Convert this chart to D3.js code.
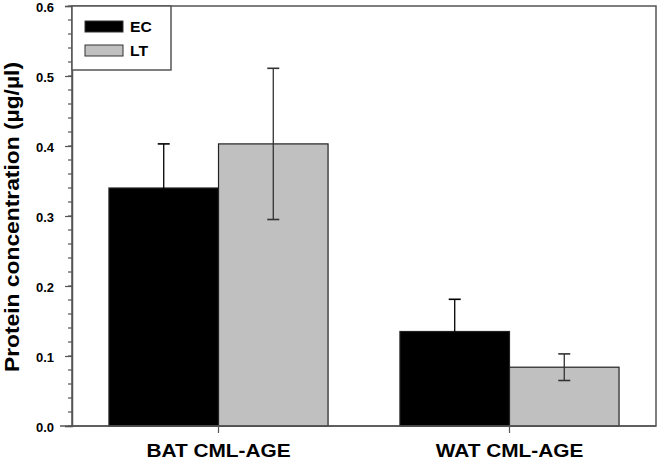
<!DOCTYPE html>
<html><head><meta charset="utf-8">
<script src="https://cdn.jsdelivr.net/npm/d3@7"></script>
<style>body{margin:0;background:#fff}svg{display:block;font-family:Arial,"Liberation Sans",sans-serif}</style>
</head><body><svg id="c" width="657" height="460"></svg>
<script>
const categories = ["BAT CML-AGE", "WAT CML-AGE"];
const seriesNames = ["EC", "LT"];
const seriesColors = ["#000000", "#c0c0c0"];
const ecValues = [0.340, 0.135];
const ecErrors = [0.063, 0.046];
const ltValues = [0.403, 0.084];
const ltErrors = [0.108, 0.019];
const yTicks = [0.0, 0.1, 0.2, 0.3, 0.4, 0.5, 0.6];

const svg = d3.select("#c");
const L = 72, R = 656, T = 6, B = 426;
const y = d3.scaleLinear().domain([0, 0.6]).range([B, T]);
const x0 = d3.scaleBand().domain(categories).range([L, R]).paddingInner(0.247).paddingOuter(0.127);
const x1 = d3.scaleBand().domain(seriesNames).range([0, x0.bandwidth()]);
const axisCol = "#555";
const FF = "Arial, 'Liberation Sans', sans-serif";

function stretch(sel, k) {
  sel.each(function () {
    const w = this.getComputedTextLength();
    d3.select(this).attr("textLength", w * k).attr("lengthAdjust", "spacingAndGlyphs");
  });
}

const data = categories.map((c, i) => ({c, vals: [
  {s: "EC", v: ecValues[i], e: ecErrors[i]},
  {s: "LT", v: ltValues[i], e: ltErrors[i]}]}));

// frame
svg.append("rect").attr("x", L).attr("y", T).attr("width", R - L).attr("height", B - T)
  .attr("fill", "none").attr("stroke", axisCol).attr("stroke-width", 1.5);

// minor ticks
const minor = d3.range(0, 0.6001, 0.02);
svg.append("g").selectAll("line").data(minor).join("line")
  .attr("x1", L - 4).attr("x2", L).attr("y1", d => y(d)).attr("y2", d => y(d))
  .attr("stroke", axisCol).attr("stroke-width", 1.2);

const yAxis = svg.append("g").attr("transform", `translate(${L},0)`)
  .call(d3.axisLeft(y).tickValues(yTicks).tickFormat(d3.format(".1f")).tickSize(7).tickPadding(11));
yAxis.select(".domain").attr("stroke", axisCol).attr("stroke-width", 1.5);
yAxis.selectAll(".tick line").attr("stroke", axisCol).attr("stroke-width", 1.2);
yAxis.selectAll("text").attr("font-size", 13).attr("font-weight", "bold").attr("fill", "#000")
  .attr("font-family", FF).attr("dy", "0.45em");

// bars
const g = svg.append("g");
data.forEach(d => {
  const gx = x0(d.c);
  d.vals.forEach((b, j) => {
    const bx = gx + x1(b.s);
    g.append("rect").attr("x", bx).attr("y", y(b.v)).attr("width", x1.bandwidth()).attr("height", y(0) - y(b.v))
      .attr("fill", seriesColors[j]).attr("stroke", "#222").attr("stroke-width", 1.2);
  });
});
// error bars
data.forEach(d => {
  const gx = x0(d.c);
  d.vals.forEach((b, j) => {
    const cx = gx + x1(b.s) + x1.bandwidth() / 2;
    const col = j === 0 ? "#000" : "#333";
    g.append("line").attr("x1", cx).attr("x2", cx).attr("y1", y(b.v + b.e)).attr("y2", y(b.v - b.e))
      .attr("stroke", col).attr("stroke-width", 1.3);
    [b.v + b.e, b.v - b.e].forEach(v => g.append("line")
      .attr("x1", cx - 6).attr("x2", cx + 6).attr("y1", y(v)).attr("y2", y(v))
      .attr("stroke", col).attr("stroke-width", 1.6));
  });
});

// x axis
const xAxis = svg.append("g").attr("transform", `translate(0,${B})`)
  .call(d3.axisBottom(x0).tickSize(7));
xAxis.select(".domain").remove();
xAxis.selectAll(".tick line").attr("stroke", axisCol).attr("stroke-width", 1.2);
xAxis.selectAll("text").attr("font-size", 17.5).attr("font-weight", "bold").attr("fill", "#000")
  .attr("font-family", FF).attr("y", 30.5).attr("dy", 0);
stretch(xAxis.selectAll("text"), 1.19);
svg.append("line").attr("x1", 60).attr("x2", R).attr("y1", B).attr("y2", B).attr("stroke", axisCol).attr("stroke-width", 1.5);

// y label
const yl = svg.append("text").attr("transform", `translate(18.5,217) rotate(-90)`)
  .attr("text-anchor", "middle").attr("font-size", 20).attr("font-weight", "bold").text("Protein concentration (µg/µl)");
yl.attr("textLength", 310).attr("lengthAdjust", "spacingAndGlyphs");

// legend
const lg = svg.append("g");
lg.append("rect").attr("x", L).attr("y", T).attr("width", 99).attr("height", 64)
  .attr("fill", "#fff").attr("stroke", axisCol).attr("stroke-width", 1.5);
seriesNames.forEach((s, i) => {
  const yy = 21 + i * 24;
  lg.append("rect").attr("x", 85).attr("y", yy).attr("width", 38).attr("height", 11)
    .attr("fill", seriesColors[i]).attr("stroke", "#333").attr("stroke-width", 1);
  const t = lg.append("text").attr("x", 130).attr("y", yy + 11).attr("font-size", 14).attr("font-weight", "bold").text(s);
  stretch(t, 1.12);
});
</script></body></html>
